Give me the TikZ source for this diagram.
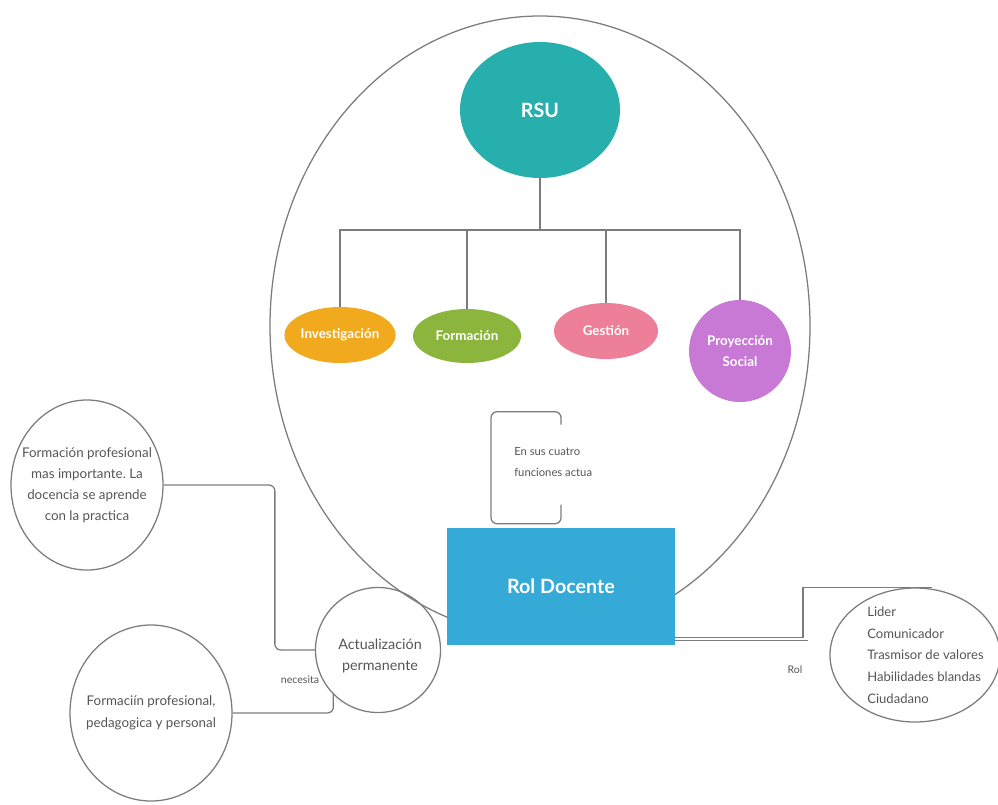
\documentclass[tikz,border=0pt]{standalone}
\usepackage{fontspec}
\setmainfont{Lato}
\frenchspacing
\usetikzlibrary{shapes.geometric,calc,positioning}
\usepackage{xcolor}
\newcommand{\myunit}{0.025cm}
\definecolor{rsuteal}{HTML}{27AFAE}
\definecolor{invorange}{HTML}{F1A91E}
\definecolor{formgreen}{HTML}{8CB53E}
\definecolor{gestpink}{HTML}{EE7F98}
\definecolor{proypurple}{HTML}{C878D5}
\definecolor{rolblue}{HTML}{36AAD7}
\definecolor{linegray}{HTML}{7C7C7C}
\definecolor{txtgray}{HTML}{555555}
\tikzset{
    linesty/.style={draw=linegray, line width=0.9pt},
    ovalsty/.style={ellipse, draw=linegray, line width=0.9pt, inner sep=0pt},
    txtsty/.style={text=txtgray, inner sep=0pt, align=center},
    rsusty/.style={ellipse, fill=rsuteal, text=white, inner sep=0pt, minimum width=160*\myunit, minimum height=136*\myunit, font=\fontsize{14}{16}\selectfont\bfseries},
    funcsty/.style={ellipse, text=white, inner sep=0pt, align=center, minimum width=104*\myunit, minimum height=56*\myunit, font=\fontsize{9.5}{15}\selectfont\bfseries},
    rolsty/.style={rectangle, fill=rolblue, text=white, minimum width=228*\myunit, minimum height=117*\myunit, font=\fontsize{14}{16}\selectfont\bfseries},
    smallsty/.style={text=txtgray, inner sep=0pt, font=\fontsize{7.5}{15}\selectfont},
}

\begin{document}
\begin{tikzpicture}
\useasboundingbox (0,0) rectangle (998*\myunit, -804*\myunit);

% big oval round the RSU tree
\node (rsuzone) [ovalsty, minimum width=540*\myunit, minimum height=620*\myunit] at (540*\myunit, -326*\myunit) {};

\node (rsu) [rsusty] at (540*\myunit, -110*\myunit) {RSU};
\coordinate (rsuj) at (540*\myunit, -230*\myunit);

\node (inv) [funcsty, fill=invorange] at (340*\myunit, -335*\myunit) {Investigación};
\node (form) [funcsty, fill=formgreen, minimum width=108*\myunit, minimum height=54*\myunit] at (467*\myunit, -336*\myunit) {Formación};
\node (gest) [funcsty, fill=gestpink] at (606*\myunit, -331*\myunit) {Gestión};
\node (proy) [funcsty, fill=proypurple, minimum width=102*\myunit, minimum height=102*\myunit] at (740*\myunit, -351*\myunit) {Proyección\\Social};

\draw [linesty] (rsu.south) -- (rsuj);
\draw [linesty] (inv.north) -- (inv.north |- rsuj) -- (proy.north |- rsuj) -- (proy.north);
\draw [linesty] (form.north) -- (form.north |- rsuj);
\draw [linesty] (gest.north) -- (gest.north |- rsuj);

\node (roldoc) [rolsty] at (561*\myunit, -586.5*\myunit) {Rol Docente};

\node (cuatrolbl) [smallsty, anchor=west, align=left, font=\fontsize{8}{15}\selectfont] at (514*\myunit, -462*\myunit) {En sus cuatro\\funciones actua};
\draw [linesty, rounded corners=6*\myunit] ([yshift=23*\myunit]roldoc.north) -- ++(0,-19*\myunit) -- ++(-70*\myunit,0) -- ++(0,112*\myunit) -- ++(70*\myunit,0) -- ++(0,-13*\myunit);

% left side
\node (actual) [ovalsty, circle, minimum size=125*\myunit] at (378*\myunit, -650*\myunit) {};
\node (actualtxt) [txtsty, font=\fontsize{10.2}{14.5}\selectfont] at (380*\myunit, -656*\myunit) {Actualización\\permanente};
\node (formpro) [ovalsty, minimum width=152*\myunit, minimum height=170*\myunit] at (87*\myunit, -485*\myunit) {};
\node (formprotxt) [txtsty, font=\fontsize{9.5}{15}\selectfont] at (87*\myunit, -485*\myunit) {Formación profesional\\mas importante. La\\docencia se aprende\\con la practica};
\node (formped) [ovalsty, minimum width=162*\myunit, minimum height=176*\myunit] at (151*\myunit, -713*\myunit) {};
\node (formpedtxt) [txtsty, font=\fontsize{9.5}{16}\selectfont] at (151*\myunit, -713*\myunit) {Formaciín profesional,\\pedagogica y personal};
\node (necesitalbl) [smallsty] at (300*\myunit, -680*\myunit) {necesita};

\draw [linesty, rounded corners=6*\myunit] (formpro.east) -| ([xshift=-40*\myunit]actual.west) -- (actual.west);
\draw [linesty, rounded corners=6*\myunit] (formped.east) -| (actual.south west);

% right side
\node (rolist) [ovalsty, minimum width=170*\myunit, minimum height=134*\myunit] at (915*\myunit, -655*\myunit) {};
\node (rolisttxt) [anchor=west, align=left, text=txtgray, inner sep=0pt, font=\fontsize{9.3}{15.4}\selectfont] at (867*\myunit, -655*\myunit) {Lider\\Comunicador\\Trasmisor de valores\\Habilidades blandas\\Ciudadano};
\node (rollbl) [smallsty] at (795*\myunit, -670*\myunit) {Rol};

\draw [linesty] ([yshift=8*\myunit]roldoc.south east) -| ([xshift=-112*\myunit]rolist.north) -- ([xshift=17*\myunit]rolist.north);
\draw [linesty] ([yshift=5*\myunit]roldoc.south east) -- ++(133*\myunit,0);

\end{tikzpicture}
\end{document}
